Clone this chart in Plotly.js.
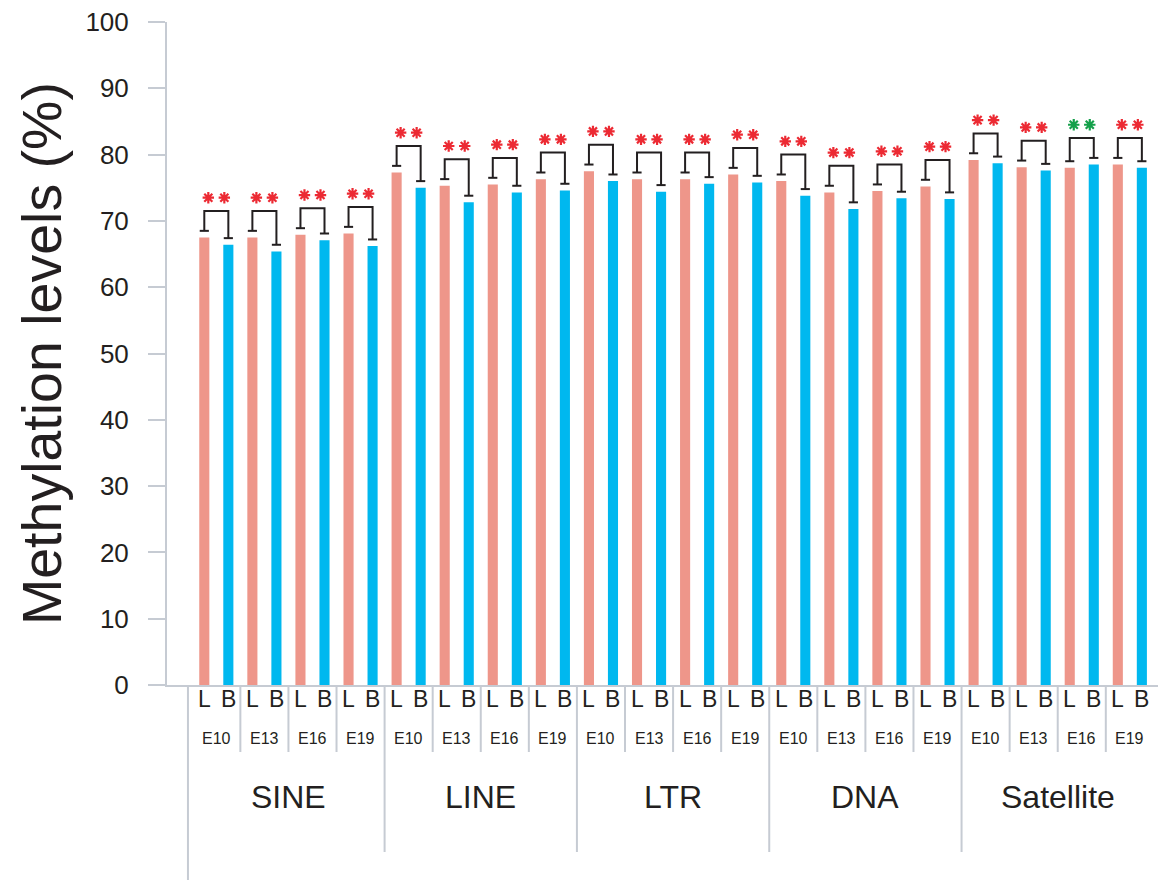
<!DOCTYPE html>
<html><head><meta charset="utf-8">
<script src="https://cdn.plot.ly/plotly-3.0.1.min.js"></script>
<style>body{margin:0;padding:0;background:#fff}#chart{width:1176px;height:882px}</style>
</head><body><div id="chart"></div>
<script>
// ---- data ----
const repeatClasses = ['SINE', 'LINE', 'LTR', 'DNA', 'Satellite'];
const stages = ['E10', 'E13', 'E16', 'E19'];
const tissues = ['L', 'B'];
const liverValues = [67.5, 67.5, 67.9, 68.1, 77.3, 75.3, 75.5, 76.3, 77.5, 76.3, 76.3, 77.0, 76.0, 74.3, 74.5, 75.2, 79.2, 78.1, 78.0, 78.5];
const brainValues = [66.4, 65.4, 67.1, 66.2, 75.0, 72.8, 74.3, 74.6, 76.0, 74.4, 75.6, 75.8, 73.8, 71.8, 73.4, 73.3, 78.7, 77.6, 78.5, 78.0];
const sigLabels = ['**', '**', '**', '**', '**', '**', '**', '**', '**', '**', '**', '**', '**', '**', '**', '**', '**', '**', '**', '**'];
const sigColors = ['red', 'red', 'red', 'red', 'red', 'red', 'red', 'red', 'red', 'red', 'red', 'red', 'red', 'red', 'red', 'red', 'red', 'red', 'green', 'red'];
const yTicks = [0, 10, 20, 30, 40, 50, 60, 70, 80, 90, 100];

// ---- styling ----
const COL_L = '#ee968a', COL_B = '#00b8ef';
const AXIS = '#c6cbd3', TXT = '#231f20';
const STAR = {red: '#ec2a33', green: '#14a04a'};
const FONT = 'Liberation Sans, Arial, Helvetica, sans-serif';
const W = 1176, H = 882, ML = 167, MR = 18, MT = 22, MB = 197;
const plotH = H - MT - MB;
const pxPerUnit = 24.04, firstBarPx = 204.3;
const xmin = -(firstBarPx - ML) / pxPerUnit;
const xmax = xmin + (W - ML - MR) / pxPerUnit;
const py = px => (H - MB - px) / plotH; // pixel y -> paper y

const nG = liverValues.length;
const xL = [], xB = [];
for (let g = 0; g < nG; g++) { xL.push(2 * g); xB.push(2 * g + 1); }

const traces = [];
traces.push({type: 'bar', x: xL, y: liverValues, width: 0.42, marker: {color: COL_L, line: {width: 0}}, hoverinfo: 'y', showlegend: false});
traces.push({type: 'bar', x: xB, y: brainValues, width: 0.42, marker: {color: COL_B, line: {width: 0}}, hoverinfo: 'y', showlegend: false});

// significance brackets
const capOff = 1.0, topOff = 4.0, starOff = 6.0, capHalf = 0.19, starDx = 0.333;
const bx = [], by = [];
const starX = {red: [], green: []}, starY = {red: [], green: []};
for (let g = 0; g < nG; g++) {
  const a = xL[g], b = xB[g];
  const ca = liverValues[g] + capOff, cb = brainValues[g] + capOff;
  const top = Math.max(liverValues[g], brainValues[g]) + topOff;
  bx.push(a - capHalf, a + capHalf, null, a, a, b, b, null, b - capHalf, b + capHalf, null);
  by.push(ca, ca, null, ca, top, top, cb, null, cb, cb, null);
  const n = sigLabels[g].length;
  const mid = (a + b) / 2;
  for (let k = 0; k < n; k++) {
    starX[sigColors[g]].push(mid + (k - (n - 1) / 2) * 2 * starDx);
    starY[sigColors[g]].push(top + starOff - topOff);
  }
}
traces.push({type: 'scatter', mode: 'lines', x: bx, y: by, line: {color: TXT, width: 2}, hoverinfo: 'skip', showlegend: false, connectgaps: false});
['red', 'green'].forEach(c => {
  traces.push({type: 'scatter', mode: 'markers', x: starX[c], y: starY[c],
    marker: {symbol: 'asterisk-open', size: 9.5, color: STAR[c], line: {color: STAR[c], width: 2.2}},
    hoverinfo: 'skip', showlegend: false});
});

// category axis labels and separators below the plot
const annotations = [];
const shapes = [];
for (let g = 0; g < nG; g++) {
  tissues.forEach((t, j) => {
    annotations.push({x: 2 * g + j, y: py(699), xref: 'x', yref: 'paper', text: t, showarrow: false,
      xanchor: 'center', yanchor: 'middle', font: {family: FONT, size: 23, color: TXT}});
  });
  annotations.push({x: 2 * g + 0.5, y: py(738), xref: 'x', yref: 'paper', text: stages[g % stages.length], showarrow: false,
    xanchor: 'center', yanchor: 'middle', font: {family: FONT, size: 16, color: TXT}});
}
const perClass = stages.length * 2;
repeatClasses.forEach((c, k) => {
  annotations.push({x: k * perClass + (perClass - 1) / 2, y: py(797), xref: 'x', yref: 'paper', text: c, showarrow: false,
    xanchor: 'center', yanchor: 'middle', font: {family: FONT, size: 32, color: TXT}});
});
// separators
shapes.push({type: 'line', xref: 'x', yref: 'paper', x0: -0.68, x1: -0.68, y0: py(686), y1: py(880), line: {color: AXIS, width: 2}});
for (let g = 0; g < nG - 1; g++) {
  const xs = 2 * g + 1.5;
  const isClass = (g + 1) % stages.length === 0;
  shapes.push({type: 'line', xref: 'x', yref: 'paper', x0: xs, x1: xs, y0: py(686), y1: py(isClass ? 852 : 752), line: {color: AXIS, width: 2}});
}

// y-axis title
annotations.push({x: (42 - ML) / (W - ML - MR), y: py(354), xref: 'paper', yref: 'paper', text: 'Methylation levels (%)',
  textangle: -90, showarrow: false, xanchor: 'center', yanchor: 'middle', font: {family: FONT, size: 55.5, color: TXT}});

const layout = {
  width: W, height: H,
  margin: {l: ML, r: MR, t: MT, b: MB, pad: 0},
  paper_bgcolor: '#fff', plot_bgcolor: '#fff',
  barmode: 'overlay',
  xaxis: {range: [xmin, xmax], showgrid: false, zeroline: false, showticklabels: false, ticks: '',
    showline: true, linecolor: AXIS, linewidth: 2, fixedrange: true},
  yaxis: {range: [0, 100], tickvals: yTicks, ticktext: yTicks.map(String), showgrid: false, zeroline: false,
    showline: true, linecolor: AXIS, linewidth: 2, ticks: 'outside', ticklen: 17, tickwidth: 2, tickcolor: AXIS,
    ticklabelstandoff: 14, tickfont: {family: FONT, size: 26, color: TXT}, fixedrange: true},
  annotations: annotations,
  shapes: shapes,
  showlegend: false
};
Plotly.newPlot('chart', traces, layout, {staticPlot: true, displayModeBar: false});
</script></body></html>
